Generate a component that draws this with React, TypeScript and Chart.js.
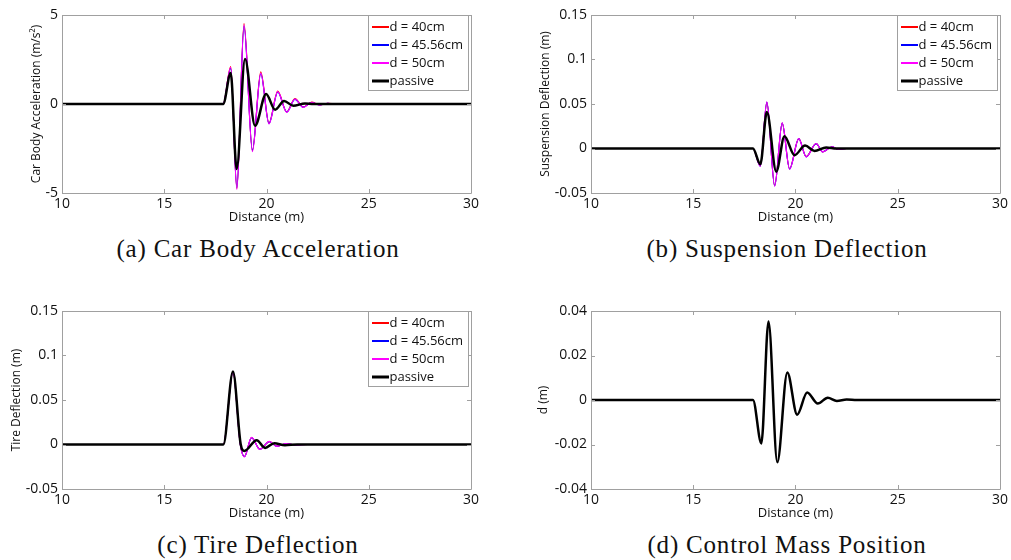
import React, { useEffect, useRef } from "react";
import { Chart, registerables } from "chart.js";

Chart.register(...registerables);

// ---------- data ----------
const xTickValues = [10, 15, 20, 25, 30];
const accelTicks = [-5, 0, 5];
const deflTicks = [-0.05, 0, 0.05, 0.1, 0.15];
const massTicks = [-0.04, -0.02, 0, 0.02, 0.04];

const seriesLabels = ["d = 40cm", "d = 45.56cm", "d = 50cm", "passive"];
const seriesColors = ["#ff0000", "#0000ff", "#ff00ff", "#000000"];
const seriesWidths = [1.2, 1.2, 1.2, 2.5];

// (a) car body acceleration
const accelActiveX = [10, 17.88, 18.25, 18.55, 18.9, 19.31, 19.72, 20.12, 20.55, 20.99, 21.39, 21.8, 22.21, 22.6, 23.0, 23.4, 30];
const accel40Y = [0, 0, 2.1, -4.75, 4.52, -2.62, 1.8, -1.08, 0.72, -0.45, 0.3, -0.17, 0.1, -0.05, 0.04, 0, 0];
const accel4556Y = [0, 0, 2.0, -4.7, 4.36, -2.6, 1.7, -1.1, 0.66, -0.45, 0.26, -0.18, 0.08, -0.05, 0.03, 0, 0];
const accel50Y = [0, 0, 2.06, -4.8, 4.44, -2.68, 1.74, -1.12, 0.69, -0.47, 0.28, -0.19, 0.09, -0.06, 0.03, 0, 0];
const accelPassiveX = [10, 17.88, 18.25, 18.54, 18.95, 19.44, 19.98, 20.42, 20.86, 21.31, 21.88, 22.3, 30];
const accelPassiveY = [0, 0, 1.74, -3.65, 2.53, -1.22, 0.56, -0.32, 0.17, -0.1, 0.03, 0, 0];

// (b) suspension deflection
const suspActiveX = [10, 17.92, 18.28, 18.6, 18.98, 19.35, 19.71, 20.16, 20.52, 21.01, 21.33, 21.79, 22.1, 22.5, 30];
const susp40Y = [0, 0, -0.0195, 0.0518, -0.0418, 0.0284, -0.0228, 0.011, -0.0092, 0.0055, -0.0037, 0.0018, -0.001, 0, 0];
const susp4556Y = [0, 0, -0.0198, 0.052, -0.042, 0.0286, -0.023, 0.0111, -0.0093, 0.0055, -0.0037, 0.0018, -0.001, 0, 0];
const susp50Y = [0, 0, -0.02, 0.0524, -0.0424, 0.0288, -0.0233, 0.0112, -0.0094, 0.0056, -0.0038, 0.0018, -0.001, 0, 0];
const suspPassiveX = [10, 17.92, 18.28, 18.6, 19.06, 19.46, 19.95, 20.47, 20.93, 21.5, 22.0, 30];
const suspPassiveY = [0, 0, -0.0176, 0.041, -0.026, 0.0138, -0.0075, 0.0033, -0.0027, 0.0012, 0, 0];

// (c) tire deflection
const tireActiveX = [10, 17.89, 18.36, 18.72, 18.92, 19.27, 19.68, 20.14, 20.5, 20.99, 21.4, 22.0, 30];
const tire40Y = [0, 0, 0.0814, 0, -0.0135, 0.0077, -0.0054, 0.0033, -0.0019, 0.0011, -0.0005, 0, 0];
const tire4556Y = [0, 0, 0.0815, 0, -0.0137, 0.0078, -0.0055, 0.0033, -0.002, 0.0011, -0.0005, 0, 0];
const tire50Y = [0, 0, 0.0816, 0, -0.0139, 0.0079, -0.0056, 0.0034, -0.002, 0.0011, -0.0005, 0, 0];
const tirePassiveX = [10, 17.89, 18.36, 18.74, 18.92, 19.52, 19.93, 20.38, 20.9, 21.5, 30];
const tirePassiveY = [0, 0, 0.082, 0, -0.0072, 0.0048, -0.0038, 0.0015, -0.0008, 0, 0];

// (d) control mass position
const massX = [10, 17.92, 18.33, 18.68, 19.11, 19.6, 20.08, 20.57, 21.09, 21.58, 22.02, 22.5, 23.0, 30];
const massY = [0, 0, -0.0195, 0.0353, -0.028, 0.0124, -0.0066, 0.0034, -0.0016, 0.001, -0.0004, 0.0002, 0, 0];

// ---------- helpers ----------
const pts = (xs: number[], ys: number[]) => xs.map((x, i) => ({ x, y: ys[i] }));
const fmt = (v: number) => String(Math.round(v * 1e6) / 1e6);

const FRAME = "#a0a0a0";
const TEXT = "#111111";
const SANS = "'Open Sans', 'DejaVu Sans', sans-serif";

function activeSets(xs: number[], y40: number[], y4556: number[], y50: number[], px: number[], py: number[]) {
  const ys = [y40, y4556, y50];
  const sets: any[] = ys.map((y, i) => ({
    label: seriesLabels[i],
    data: pts(xs, y),
    borderColor: seriesColors[i],
    borderWidth: seriesWidths[i],
    order: 3 - i,
  }));
  sets.push({ label: seriesLabels[3], data: pts(px, py), borderColor: seriesColors[3], borderWidth: seriesWidths[3], order: 0 });
  return sets;
}

const framePlugin = {
  id: "frame",
  afterDraw(chart: any, _args: any, opts: any) {
    const { ctx, chartArea: a, scales } = chart;
    ctx.save();
    ctx.strokeStyle = FRAME;
    ctx.lineWidth = 1;
    ctx.beginPath();
    ctx.rect(Math.round(a.left) + 0.5, Math.round(a.top) + 0.5, Math.round(a.right - a.left), Math.round(a.bottom - a.top));
    ctx.stroke();
    const L = 4;
    ctx.beginPath();
    scales.x.ticks.forEach((t: any) => {
      const p = Math.round(scales.x.getPixelForValue(t.value)) + 0.5;
      ctx.moveTo(p, a.bottom);
      ctx.lineTo(p, a.bottom - L);
      ctx.moveTo(p, a.top);
      ctx.lineTo(p, a.top + L);
    });
    scales.y.ticks.forEach((t: any) => {
      const p = Math.round(scales.y.getPixelForValue(t.value)) + 0.5;
      ctx.moveTo(a.left, p);
      ctx.lineTo(a.left + L, p);
      ctx.moveTo(a.right, p);
      ctx.lineTo(a.right - L, p);
    });
    ctx.stroke();

    if (opts && opts.legend) {
      const bx = Math.round(a.right) - 102.5;
      const by = Math.round(a.top) + 0.5;
      const bw = 100;
      const bh = 75;
      ctx.fillStyle = "#ffffff";
      ctx.fillRect(bx, by, bw, bh);
      ctx.strokeStyle = FRAME;
      ctx.lineWidth = 1;
      ctx.strokeRect(bx, by, bw, bh);
      ctx.font = `13px ${SANS}`;
      ctx.textBaseline = "middle";
      ctx.textAlign = "left";
      seriesLabels.forEach((label, i) => {
        const yy = by + 11.5 + i * 18;
        ctx.strokeStyle = seriesColors[i];
        ctx.lineWidth = i === 3 ? 3 : 2;
        ctx.beginPath();
        ctx.moveTo(bx + 3.5, yy);
        ctx.lineTo(bx + 20.5, yy);
        ctx.stroke();
        ctx.fillStyle = TEXT;
        ctx.fillText(label, bx + 21, yy + 0.5);
      });
    }
    ctx.restore();
  },
};

type PanelProps = {
  left: number;
  top: number;
  width: number;
  height: number;
  yAxisWidth: number;
  padRight: number;
  padTop: number;
  xAxisHeight: number;
  yTitle: string;
  yTitlePad: number;
  yMin: number;
  yMax: number;
  yTicks: number[];
  datasets: any[];
  legend: boolean;
};

function Panel(p: PanelProps) {
  const ref = useRef<HTMLCanvasElement | null>(null);
  useEffect(() => {
    if (!ref.current) return;
    const chart = new Chart(ref.current, {
      type: "line",
      data: { datasets: p.datasets },
      plugins: [framePlugin],
      options: {
        animation: false,
        responsive: false,
        maintainAspectRatio: false,
        parsing: false,
        layout: { padding: { left: 0, top: p.padTop, right: p.padRight, bottom: 0 } },
        elements: {
          point: { radius: 0 },
          line: { cubicInterpolationMode: "monotone", borderJoinStyle: "round", borderCapStyle: "round" },
        },
        plugins: {
          legend: { display: false },
          tooltip: { enabled: false },
          frame: { legend: p.legend },
        } as any,
        scales: {
          x: {
            type: "linear",
            min: 10,
            max: 30,
            grid: { display: false, drawTicks: false },
            border: { display: false },
            afterBuildTicks: (s: any) => {
              s.ticks = xTickValues.map((v) => ({ value: v }));
            },
            afterFit: (s: any) => {
              s.height = p.xAxisHeight;
            },
            ticks: {
              autoSkip: false,
              maxRotation: 0,
              padding: 3,
              color: TEXT,
              font: { family: SANS, size: 14 },
              callback: (v: any) => fmt(Number(v)),
            },
            title: {
              display: true,
              text: "Distance (m)",
              color: TEXT,
              font: { family: SANS, size: 13 },
              padding: { top: 0, bottom: 7 },
            },
          },
          y: {
            type: "linear",
            min: p.yMin,
            max: p.yMax,
            grid: { display: false, drawTicks: false },
            border: { display: false },
            afterBuildTicks: (s: any) => {
              s.ticks = p.yTicks.map((v) => ({ value: v }));
            },
            afterFit: (s: any) => {
              s.width = p.yAxisWidth;
            },
            ticks: {
              autoSkip: false,
              padding: 4,
              color: TEXT,
              font: { family: SANS, size: 14 },
              callback: (v: any) => fmt(Number(v)),
            },
            title: {
              display: true,
              text: p.yTitle,
              color: TEXT,
              font: { family: SANS, size: 12 },
              padding: { top: p.yTitlePad, bottom: 0 },
            },
          },
        },
      } as any,
    });
    return () => chart.destroy();
  }, []);
  return (
    <canvas
      ref={ref}
      width={p.width}
      height={p.height}
      style={{ position: "absolute", left: p.left, top: p.top, width: p.width, height: p.height, display: "block" }}
    />
  );
}

const captionStyle = (left: number, width: number, top: number): React.CSSProperties => ({
  position: "absolute",
  left,
  top,
  width,
  textAlign: "center",
  fontFamily: "'Liberation Serif', 'DejaVu Serif', serif",
  fontSize: 25,
  lineHeight: "25px",
  letterSpacing: "0.8px",
  color: "#111",
  whiteSpace: "nowrap",
});

export default function App() {
  return (
    <div style={{ position: "absolute", left: 0, top: 0, width: 1011, height: 560, background: "#fff", overflow: "hidden" }}>
      <Panel
        left={0}
        top={0}
        width={505}
        height={232}
        yAxisWidth={62}
        padRight={34}
        padTop={15}
        xAxisHeight={39}
        yTitle="Car Body Acceleration (m/s²)"
        yTitlePad={29.5}
        yMin={-5}
        yMax={5}
        yTicks={accelTicks}
        datasets={activeSets(accelActiveX, accel40Y, accel4556Y, accel50Y, accelPassiveX, accelPassiveY)}
        legend={true}
      />
      <Panel
        left={505}
        top={0}
        width={506}
        height={232}
        yAxisWidth={86}
        padRight={10}
        padTop={15}
        xAxisHeight={39}
        yTitle="Suspension Deflection (m)"
        yTitlePad={33.8}
        yMin={-0.05}
        yMax={0.15}
        yTicks={deflTicks}
        datasets={activeSets(suspActiveX, susp40Y, susp4556Y, susp50Y, suspPassiveX, suspPassiveY)}
        legend={true}
      />
      <Panel
        left={0}
        top={296}
        width={505}
        height={232}
        yAxisWidth={62}
        padRight={34}
        padTop={15}
        xAxisHeight={39}
        yTitle="Tire Deflection (m)"
        yTitlePad={9.5}
        yMin={-0.05}
        yMax={0.15}
        yTicks={deflTicks}
        datasets={activeSets(tireActiveX, tire40Y, tire4556Y, tire50Y, tirePassiveX, tirePassiveY)}
        legend={true}
      />
      <Panel
        left={505}
        top={296}
        width={506}
        height={232}
        yAxisWidth={86}
        padRight={10}
        padTop={15}
        xAxisHeight={39}
        yTitle="d (m)"
        yTitlePad={31}
        yMin={-0.04}
        yMax={0.04}
        yTicks={massTicks}
        datasets={[{ label: "d", data: pts(massX, massY), borderColor: "#000000", borderWidth: 2.5 }]}
        legend={false}
      />
      <div style={captionStyle(0, 516, 236)}>(a) Car Body Acceleration</div>
      <div style={captionStyle(563, 448, 236)}>(b) Suspension Deflection</div>
      <div style={captionStyle(0, 516, 532)}>(c) Tire Deflection</div>
      <div style={captionStyle(563, 448, 532)}>(d) Control Mass Position</div>
    </div>
  );
}
